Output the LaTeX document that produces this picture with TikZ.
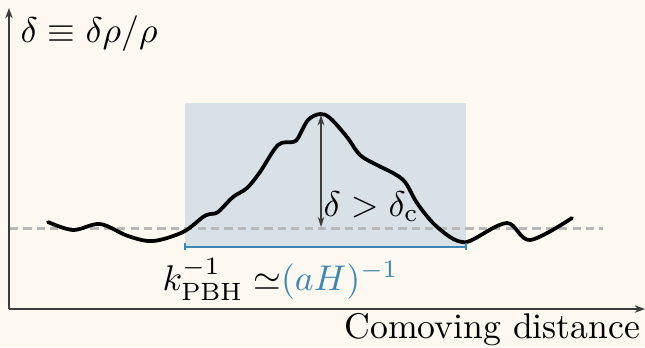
\documentclass[tikz,border=0pt]{standalone}
\usetikzlibrary{arrows.meta}
\definecolor{bg}{HTML}{FDF9F1}
\definecolor{boxc}{HTML}{D8E1E5}
\definecolor{pblue}{HTML}{3C87B6}
\definecolor{axisc}{HTML}{3C3C3C}
\definecolor{dashc}{HTML}{B8B8B8}
\tikzset{
  axisline/.style={draw=axisc, line width=0.43pt, -{Stealth[length=2.9pt,width=2.1pt]}},
  lbl/.style={inner sep=0pt},
  curveline/.style={line width=1.05pt, black, line cap=round, line join=round},
}
\begin{document}
\begin{tikzpicture}[x=0.28pt,y=-0.28pt]
\fill[bg] (0,0) rectangle (645,347);
\useasboundingbox (0,0) rectangle (645,347);
% shaded region
\fill[boxc] (185,103) rectangle (466,246);
% dashed baseline
\coordinate (dl) at (10,228);
\coordinate (dr) at (603,228);
\draw[dashc, line width=0.85pt, dash pattern=on 2.3pt off 1.45pt] (dl) -- (dr);
% axes
\coordinate (O) at (9,309);
\coordinate (ytop) at (9,8);
\coordinate (xend) at (645,309);
\draw[axisline] (O) -- (ytop);
\draw[axisline] (O) -- (xend);
% curve
\draw[curveline] plot[smooth, tension=0.55] coordinates {
(48,222) (73,230) (100,224) (128,236) (153,241) (183,232) (203,217) (210,214) (218,212)
(233,197) (247,188) (260,172) (278,145) (293,142) (298,138) (308,120) (320,114) (330,118)
(347,137) (360,155) (377,165) (393,173) (405,182) (417,203) (433,223) (450,237) (462,242)
(472,240) (507,223) (530,240) (572,218)};
% peak arrow
\coordinate (peak) at (321,115);
\coordinate (base) at (321,227);
\draw[axisc, line width=0.34pt, {Stealth[length=2.9pt,width=1.9pt]}-{Stealth[length=2.9pt,width=1.9pt]}] (peak) -- (base);
% blue bar
\coordinate (bl) at (184,246.5);
\coordinate (br) at (467,246.5);
\draw[pblue, line width=0.55pt, {Bar[width=1.7pt]}-{Bar[width=1.7pt]}] (bl) -- (br);
% labels
\node[lbl, anchor=base west] (ylab) at (20,42) {$\delta \equiv \delta\rho/\rho$};
\node[lbl, anchor=base west] (cond) at (323,216) {$\delta > \delta_{\mathrm{c}}$};
\node[lbl, anchor=base west] (klab) at (162,290) {$k^{-1}_{\mathrm{PBH}} \simeq$\textcolor{pblue}{$(aH)^{-1}$}};
\node[lbl, anchor=base east] (xlab) at (641,338) {Comoving distance};
\end{tikzpicture}
\end{document}
